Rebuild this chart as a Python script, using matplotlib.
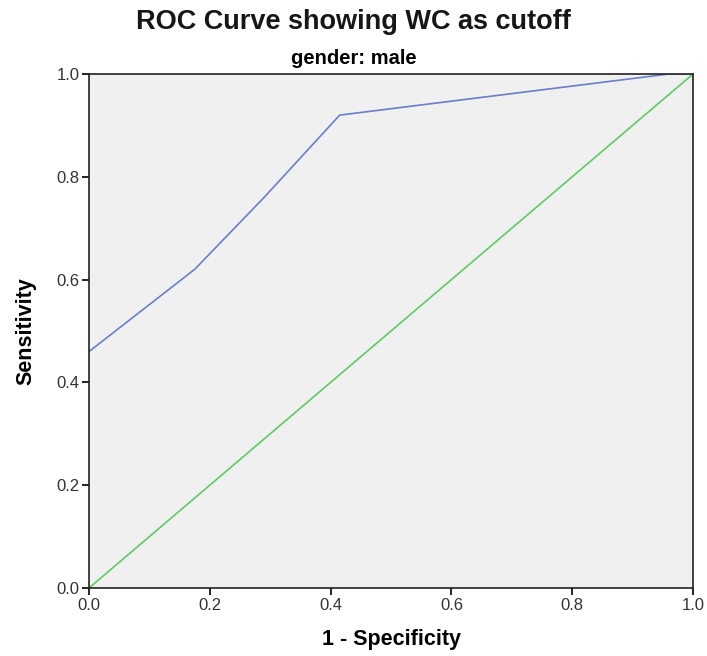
import matplotlib
matplotlib.use("Agg")
from matplotlib import pyplot as plt

# ROC points
fpr = [0.0, 0.175, 0.29, 0.415, 0.96, 1.0]
tpr = [0.46, 0.62, 0.76, 0.92, 1.0, 1.0]
ref_x = [0.0, 1.0]
ref_y = [0.0, 1.0]
ticks = [0.0, 0.2, 0.4, 0.6, 0.8, 1.0]
tick_labels = ["0.0", "0.2", "0.4", "0.6", "0.8", "1.0"]

plt.rcParams['font.family'] = ['Liberation Sans', 'DejaVu Sans']

fig = plt.figure(figsize=(7.07, 6.56), dpi=100)
ax = fig.add_axes([89/707, 1-588/656, 604/707, 514/656])
ax.set_facecolor('#f0f0f0')

ax.plot(fpr, tpr, c='#6a7fcc', lw=1.2)
ax.plot(ref_x, ref_y, c='#5ccc62', lw=1.2)

ax.set_xlim(0, 1)
ax.set_ylim(0, 1)
ax.set_xticks(ticks)
ax.set_xticklabels(tick_labels)
ax.set_yticks(ticks)
ax.set_yticklabels(tick_labels)
ax.tick_params(axis='both', direction='out', length=5, width=1.2,
               labelsize=12, labelcolor='#333333', pad=2)
for s in ax.spines.values():
    s.set_linewidth(1.2)
    s.set_color('#222222')

ax.set_xlabel('1 - Specificity', fontsize=15.5, fontweight='bold', labelpad=12)
ax.set_ylabel('Sensitivity', fontsize=15.5, fontweight='bold', labelpad=14)

fig.text(0.5, 1-22/656, 'ROC Curve showing WC as cutoff', ha='center', va='center',
         fontsize=19.5, fontweight='bold', color='#161616')
fig.text(0.5, 1-59/656, 'gender: male', ha='center', va='center',
         fontsize=14.5, fontweight='bold')

fig.savefig('out.png', dpi=100)
plt.close()
